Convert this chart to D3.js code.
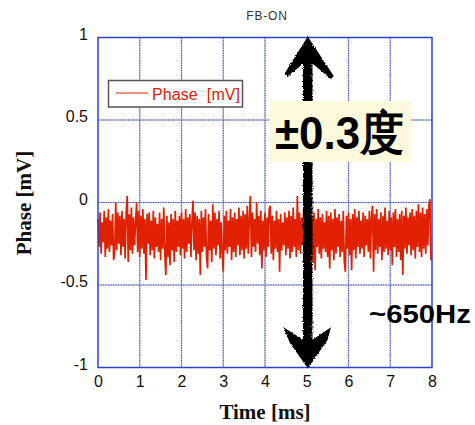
<!DOCTYPE html>
<html lang="en">
<head>
    <meta charset="utf-8">
    <script src="https://d3js.org/d3.v7.min.js"></script>
    <title>FB-ON</title>
    <style>
        body { margin: 0; background: #fff; }
        svg { display: block; }
    </style>
</head>
<body>
    <div id="container"></div>
    <script>
        // tick values
        const xTicks = [0, 1, 2, 3, 4, 5, 6, 7, 8];
        const yTicks = [-1, -0.5, 0, 0.5, 1];
        const yTickLabels = ["-1", "-0.5", "0", "0.5", "1"];

        // phase trace, one sample every 0.025 ms (0 .. 7.975 ms)
        const sampleStep = 0.025;
        const phase = [
            -0.10,-0.27,-0.06,-0.31,-0.12,-0.24,-0.05,-0.33,-0.09,-0.28,-0.04,-0.30,-0.11,-0.26,-0.07,-0.35,-0.30,0.00,-0.29,-0.06,
            -0.25,-0.08,-0.32,-0.05,-0.27,-0.10,-0.34,-0.06,0.04,-0.36,-0.07,-0.29,-0.03,-0.31,-0.09,-0.26,-0.12,0.00,-0.30,-0.05,
            -0.33,-0.08,-0.28,-0.04,-0.31,-0.10,-0.47,-0.07,-0.25,-0.06,-0.32,-0.11,-0.29,-0.05,-0.34,-0.09,-0.27,-0.13,-0.30,-0.06,
            -0.35,-0.10,-0.28,-0.03,-0.31,-0.44,-0.08,-0.33,-0.12,-0.38,-0.07,-0.29,-0.10,-0.36,-0.05,-0.30,-0.11,-0.27,-0.08,-0.32,
            -0.06,-0.28,-0.10,-0.34,-0.04,-0.30,-0.09,-0.25,-0.07,-0.33,-0.12,0.01,-0.29,-0.06,-0.35,-0.08,-0.31,-0.10,-0.44,-0.05,
            -0.30,-0.09,-0.27,-0.04,-0.33,-0.40,-0.07,-0.29,-0.11,-0.36,-0.01,-0.28,-0.06,-0.32,-0.10,-0.26,-0.05,-0.34,-0.12,-0.30,
            -0.42,-0.08,-0.29,-0.05,-0.31,-0.11,-0.27,-0.04,-0.35,-0.09,-0.30,-0.06,-0.33,-0.10,-0.26,-0.03,-0.32,-0.08,-0.29,-0.05,
            -0.34,-0.07,-0.28,-0.02,-0.31,-0.09,0.04,-0.33,-0.06,-0.27,-0.10,-0.30,0.00,-0.25,-0.08,-0.32,-0.05,-0.40,-0.11,-0.29,
            -0.06,-0.33,-0.09,-0.27,-0.04,-0.02,-0.31,-0.08,-0.35,-0.11,-0.28,-0.05,-0.30,-0.10,-0.42,-0.07,-0.29,-0.12,-0.26,-0.06,
            -0.32,-0.09,-0.28,-0.05,-0.34,-0.08,-0.30,-0.03,-0.27,-0.10,-0.33,0.04,-0.29,-0.06,-0.31,-0.09,-0.26,-0.04,-0.35,-0.08,
            -0.28,-0.11,-0.32,-0.05,-0.29,-0.08,-0.36,-0.06,-0.41,-0.10,-0.27,-0.04,-0.31,-0.09,-0.34,-0.07,-0.28,-0.12,-0.30,-0.05,
            -0.33,-0.08,-0.40,-0.06,-0.29,-0.10,-0.35,-0.04,-0.31,-0.09,-0.27,-0.07,-0.33,-0.11,-0.30,-0.05,-0.36,-0.42,-0.08,-0.28,
            -0.06,-0.32,-0.10,-0.41,-0.07,-0.29,-0.04,-0.34,-0.09,-0.27,-0.05,-0.31,-0.11,-0.28,-0.06,-0.33,-0.08,-0.26,-0.10,-0.30,
            -0.05,-0.34,-0.09,-0.02,-0.42,-0.07,-0.29,-0.04,-0.31,-0.10,-0.27,-0.06,-0.35,-0.08,-0.30,-0.03,-0.28,-0.11,-0.32,-0.05,
            -0.29,-0.09,-0.38,-0.06,-0.27,-0.04,-0.33,-0.10,-0.30,-0.07,-0.35,-0.05,-0.44,-0.08,-0.28,-0.03,-0.31,-0.09,-0.26,-0.06,
            -0.32,-0.04,-0.29,-0.08,-0.34,-0.05,-0.27,-0.01,-0.30,-0.06,-0.33,-0.03,-0.28,-0.07,-0.31,-0.04,-0.26,-0.02,0.02,-0.35
        ];

        const title = "FB-ON";
        const seriesName = "Phase  [mV]";
        const xLabel = "Time [ms]";
        const yLabel = "Phase [mV]";
        const arrowAt = 5;            // ms, where the double arrow stands
        const boxNote = "±0.3度";
        const freqNote = "~650Hz";

        const w = 475;
        const h = 425;
        const plotL = 98, plotR = 432, plotT = 37.5, plotB = 367.5;
        const RED = "#e02000";
        const GRID = "#3a50c4";
        const SANS = "'Liberation Sans', Arial, Helvetica, sans-serif";
        const SERIF = "'Liberation Serif', 'Times New Roman', serif";

        const svg = d3.select("#container")
                      .append("svg")
                      .attr("width", w)
                      .attr("height", h);

        svg.append("rect").attr("width", w).attr("height", h).attr("fill", "#fff");

        const xScale = d3.scaleLinear().domain([0, 8]).range([plotL, plotR]);
        const yScale = d3.scaleLinear().domain([-1, 1]).range([plotB, plotT]);

        // grid: grey line under blue dots
        const gridX = xTicks.slice(1, -1), gridY = yTicks.slice(1, -1);
        [["#c4c6d4", 1.6, null], [GRID, 1, "1.2,1.3"]].forEach(([col, sw, dash]) => {
            const g = svg.append("g");
            g.selectAll(".gx")
             .data(gridX)
             .enter()
             .append("line")
             .attr("x1", d => xScale(d)).attr("x2", d => xScale(d))
             .attr("y1", plotT).attr("y2", plotB);
            g.selectAll(".gy")
             .data(gridY)
             .enter()
             .append("line")
             .attr("y1", d => yScale(d)).attr("y2", d => yScale(d))
             .attr("x1", plotL).attr("x2", plotR);
            g.selectAll("line").attr("stroke", col).attr("stroke-width", sw)
             .attr("stroke-dasharray", dash);
        });

        // trace
        const line = d3.line()
                       .x((d, i) => xScale(i * sampleStep))
                       .y(d => yScale(d));
        svg.append("path")
           .datum(phase)
           .attr("d", line)
           .attr("fill", "none")
           .attr("stroke", RED)
           .attr("stroke-width", 1.7)
           .attr("stroke-linejoin", "bevel");

        // frame
        svg.append("rect")
           .attr("x", plotL).attr("y", plotT)
           .attr("width", plotR - plotL).attr("height", plotB - plotT)
           .attr("fill", "none").attr("stroke", "#2a44d0").attr("stroke-width", 1.5);

        // axes (labels only, ticks are the grid)
        const xAxis = d3.axisBottom(xScale).tickValues(xTicks).tickSize(0).tickPadding(8);
        const xg = svg.append("g").attr("transform", "translate(0," + plotB + ")").call(xAxis);
        xg.select(".domain").remove();
        xg.selectAll("text").attr("font-family", SANS).attr("font-size", 16).attr("fill", "#111");

        const yAxis = d3.axisLeft(yScale).tickValues(yTicks).tickSize(0).tickPadding(10)
                        .tickFormat((d, i) => yTickLabels[i]);
        const yg = svg.append("g").attr("transform", "translate(" + plotL + ",0)").call(yAxis);
        yg.select(".domain").remove();
        yg.selectAll("text").attr("font-family", SANS).attr("font-size", 16).attr("fill", "#111")
          .attr("dy", "0.1em");

        svg.append("text")
           .attr("x", 267).attr("y", 20)
           .attr("text-anchor", "middle")
           .attr("font-family", SANS).attr("font-size", 12)
           .attr("letter-spacing", 0.8)
           .attr("fill", "#333")
           .text(title);

        svg.append("text")
           .attr("x", 265).attr("y", 419)
           .attr("text-anchor", "middle")
           .attr("font-family", SERIF).attr("font-weight", "bold").attr("font-size", 21)
           .attr("fill", "#111")
           .text(xLabel);

        svg.append("text")
           .attr("transform", "translate(31,203) rotate(-90)")
           .attr("text-anchor", "middle")
           .attr("font-family", SERIF).attr("font-weight", "bold").attr("font-size", 21)
           .attr("fill", "#111")
           .text(yLabel);

        // legend
        const lg = svg.append("g");
        lg.append("rect")
          .attr("x", 108.5).attr("y", 80.5).attr("width", 134).attr("height", 26.5)
          .attr("fill", "#fff").attr("stroke", "#555").attr("stroke-width", 1.5);
        lg.append("line")
          .attr("x1", 116).attr("x2", 148).attr("y1", 93).attr("y2", 93)
          .attr("stroke", RED).attr("stroke-width", 1);
        lg.append("text")
          .attr("x", 152).attr("y", 99.5)
          .attr("font-family", SANS).attr("font-size", 16)
          .attr("textLength", 88).attr("lengthAdjust", "spacing")
          .attr("fill", RED)
          .style("white-space", "pre")
          .text(seriesName);

        // hand drawn double arrow
        const defs = svg.append("defs");
        const rough = defs.append("filter").attr("id", "rough")
                          .attr("x", "-20%").attr("y", "-5%").attr("width", "140%").attr("height", "110%");
        rough.append("feTurbulence").attr("type", "fractalNoise").attr("baseFrequency", 0.9)
             .attr("numOctaves", 2).attr("seed", 3).attr("result", "noise");
        rough.append("feDisplacementMap").attr("in", "SourceGraphic").attr("in2", "noise")
             .attr("scale", 3).attr("xChannelSelector", "R").attr("yChannelSelector", "G");

        const ax = xScale(arrowAt) + 1;
        const aTop = yScale(1) + 0.5;
        const aBot = yScale(-1) - 0.5;
        const arrowPts = [
            [ax, aTop], [ax + 25, aTop + 38], [ax + 23, aTop + 40], [ax + 4, aTop + 24],
            [ax + 4, aBot - 26], [ax + 22, aBot - 38], [ax + 19, aBot - 27], [ax, aBot],
            [ax - 17, aBot - 24], [ax - 23, aBot - 38], [ax - 4, aBot - 26],
            [ax - 4, aTop + 24], [ax - 20, aTop + 38], [ax - 22, aTop + 35]
        ];
        svg.append("path")
           .attr("d", d3.line()(arrowPts) + "Z")
           .attr("fill", "#000")
           .attr("stroke", "#000").attr("stroke-width", 1.5)
           .attr("filter", "url(#rough)");

        // note boxes
        svg.append("rect")
           .attr("x", 269).attr("y", 101).attr("width", 142).attr("height", 61)
           .attr("fill", "#fdf9dc");
        svg.append("text")
           .attr("x", 275).attr("y", 149)
           .attr("font-family", SANS).attr("font-weight", "bold").attr("font-size", 47)
           .attr("textLength", 129).attr("lengthAdjust", "spacingAndGlyphs")
           .attr("fill", "#000")
           .text(boxNote);

        svg.append("text")
           .attr("x", 369).attr("y", 323)
           .attr("font-family", SANS).attr("font-weight", "bold").attr("font-size", 25)
           .attr("textLength", 102).attr("lengthAdjust", "spacingAndGlyphs")
           .attr("fill", "#000")
           .text(freqNote);
    </script>
</body>
</html>
